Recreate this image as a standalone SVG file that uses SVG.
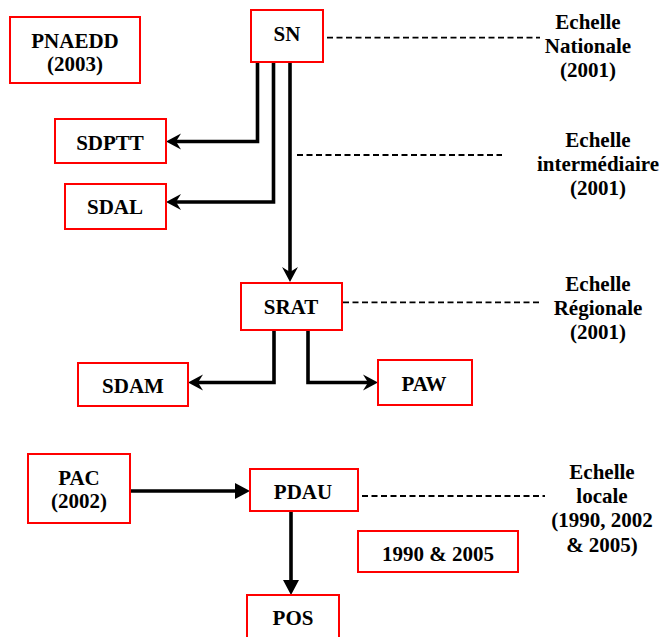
<svg xmlns="http://www.w3.org/2000/svg" width="662" height="637" viewBox="0 0 662 637">
<style>
  .box { fill: #ffffff; stroke: #ff0000; stroke-width: 2; }
  text { font-family: 'Liberation Serif', 'Tinos', 'Times New Roman', 'DejaVu Serif', serif; font-weight: bold; font-size: 21px; fill: #000; text-anchor: middle; }
  .con { fill: none; stroke: #000; stroke-width: 3.6; }
  .dash { fill: none; stroke: #000; stroke-width: 1.8; stroke-dasharray: 6 3.5; }
</style>
<defs>
  <marker id="stealth" markerUnits="userSpaceOnUse" markerWidth="16" markerHeight="18" viewBox="-16 -9 16 18" refX="-9" refY="0" orient="auto">
    <path d="M0,0 L-15,-8 L-10,0 L-15,8 Z" fill="#000"/>
  </marker>
  <marker id="tri" markerUnits="userSpaceOnUse" markerWidth="16" markerHeight="18" viewBox="-16 -9 16 18" refX="-14" refY="0" orient="auto">
    <path d="M0,0 L-15,-8 L-15,8 Z" fill="#000"/>
  </marker>
</defs>
<rect width="662" height="637" fill="#ffffff"/>

<g id="connectors">
  <path class="con" d="M257.5,62 V141.5 H175" marker-end="url(#stealth)"/>
  <path class="con" d="M273.5,62 V202 H175" marker-end="url(#stealth)"/>
  <path class="con" d="M290,62 V273" marker-end="url(#stealth)"/>
  <path class="con" d="M274,330 V382.5 H197" marker-end="url(#stealth)"/>
  <path class="con" d="M308,330 V382.5 H369" marker-end="url(#stealth)"/>
  <path class="con" d="M130,491 H236" marker-end="url(#tri)"/>
  <path class="con" d="M291,511 V581" marker-end="url(#tri)"/>
  <path class="dash" d="M327,37.7 H540"/>
  <path class="dash" d="M297,155 H502"/>
  <path class="dash" d="M343,302.3 H540"/>
  <path class="dash" d="M362,496 H545"/>
</g>

<g id="PNAEDD">
  <rect class="box" x="10" y="17" width="130" height="66"/>
  <text font-family="Liberation Serif, serif" x="75" y="48">PNAEDD</text>
  <text x="75" y="71">(2003)</text>
</g>
<g id="SN">
  <rect class="box" x="251" y="10" width="72" height="52"/>
  <text x="287" y="41">SN</text>
</g>
<g id="SDPTT">
  <rect class="box" x="55" y="119" width="111" height="44"/>
  <text x="110" y="150">SDPTT</text>
</g>
<g id="SDAL">
  <rect class="box" x="65" y="184" width="101" height="45"/>
  <text x="115" y="214">SDAL</text>
</g>
<g id="SRAT">
  <rect class="box" x="241" y="283" width="101" height="47"/>
  <text x="291" y="314">SRAT</text>
</g>
<g id="SDAM">
  <rect class="box" x="78" y="363" width="110" height="43"/>
  <text x="133" y="393">SDAM</text>
</g>
<g id="PAW">
  <rect class="box" x="378" y="360" width="94" height="45"/>
  <text x="424" y="391">PAW</text>
</g>
<g id="PAC">
  <rect class="box" x="28" y="454" width="102" height="69"/>
  <text x="79" y="485">PAC</text>
  <text x="79" y="508">(2002)</text>
</g>
<g id="PDAU">
  <rect class="box" x="250" y="469" width="108" height="42"/>
  <text x="303" y="499">PDAU</text>
</g>
<g id="POS">
  <rect class="box" x="247" y="595" width="92" height="48"/>
  <text x="293" y="625">POS</text>
</g>
<g id="years-1990-2005">
  <rect class="box" x="358" y="531" width="160" height="41"/>
  <text x="438" y="561">1990 &amp; 2005</text>
</g>

<g id="echelle-nationale">
  <text x="588" y="29">Echelle</text>
  <text x="588" y="53">Nationale</text>
  <text x="588" y="77">(2001)</text>
</g>
<g id="echelle-intermediaire">
  <text x="598" y="147">Echelle</text>
  <text x="598" y="171">intermédiaire</text>
  <text x="598" y="195">(2001)</text>
</g>
<g id="echelle-regionale">
  <text x="598" y="291">Echelle</text>
  <text x="598" y="315">Régionale</text>
  <text x="598" y="339">(2001)</text>
</g>
<g id="echelle-locale">
  <text x="602" y="479">Echelle</text>
  <text x="602" y="503">locale</text>
  <text x="602" y="527">(1990, 2002</text>
  <text x="602" y="552">&amp; 2005)</text>
</g>
</svg>
